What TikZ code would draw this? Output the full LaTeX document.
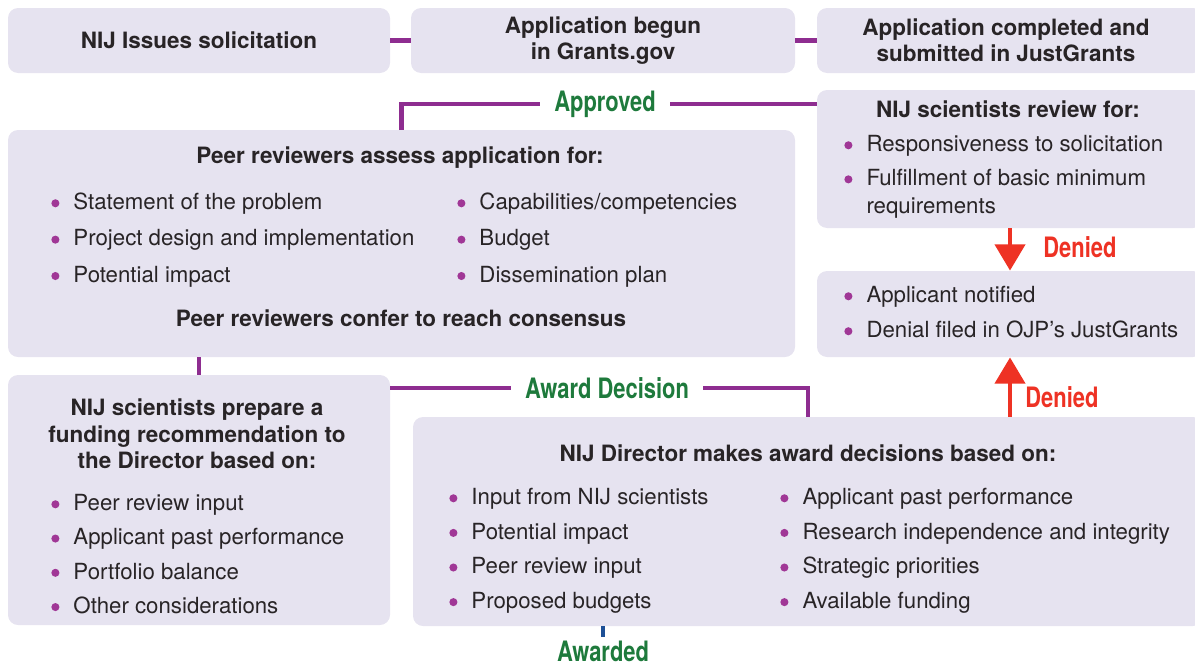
\documentclass[tikz,border=0pt]{standalone}
\usepackage{fontspec}
\setmainfont{TeX Gyre Heros}
\newfontfamily\condfont[FakeStretch=0.78]{TeX Gyre Heros}
\definecolor{boxfill}{RGB}{230, 227, 240}
\definecolor{flowpurple}{RGB}{142, 45, 144}
\definecolor{dotpurple}{RGB}{160, 55, 150}
\definecolor{okgreen}{RGB}{30, 122, 60}
\definecolor{denyred}{RGB}{238, 50, 36}
\definecolor{awardblue}{RGB}{30, 80, 150}
\definecolor{textgray}{RGB}{40, 36, 38}
\usetikzlibrary{arrows.meta, positioning, fit}
\newcommand{\bul}{\tikz[baseline=-3.6pt]\fill[dotpurple] (0,0) circle (2.3pt);}

\begin{document}
\begin{tikzpicture}[x=0.02cm, y=-0.02cm,
  box/.style={fill=boxfill, rounded corners=0.2cm, inner sep=0pt},
  title/.style={font=\fontsize{12.8}{15}\selectfont\bfseries, text=textgray, align=center, inner sep=0pt},
  items/.style={font=\fontsize{12.65}{14.5}\selectfont, text=textgray, anchor=mid west, inner sep=0pt},
  flow/.style={draw=flowpurple, line width=2.8pt},
  deny/.style={draw=denyred, line width=2.8pt, -{Triangle[length=15pt, width=17pt]}},
  outcome/.style={font=\condfont\fontsize{16}{18}\selectfont\bfseries, inner ysep=0pt, inner xsep=8pt}]
  \useasboundingbox (0,0) rectangle (1195,666);
  \clip (0,0) rectangle (1195,666);

  % Boxes
  \node[box, fit={(8,8) (390,73)}] (solicit) {};
  \node[box, fit={(411,8) (795,73)}] (begun) {};
  \node[box, fit={(817,8) (1203,73)}] (submitted) {};
  \node[box, fit={(817,90) (1203,228)}] (review) {};
  \node[box, fit={(8,130) (795,357)}] (peer) {};
  \node[box, fit={(817,271) (1203,357)}] (notified) {};
  \node[box, fit={(8,375) (390,625)}] (prep) {};
  \node[box, fit={(413,417) (1203,626)}] (director) {};

  % Top row
  \node[title] (solicitT) at (solicit) {NIJ Issues solicitation};
  \node[title] (begunT) at (begun) {Application begun\\in Grants.gov};
  \node[title] (submittedT) at (1006,40) {Application completed and\\submitted in JustGrants};

  % NIJ scientists review
  \node[title] (reviewT) at (1008,109) {NIJ scientists review for:};
  \node[items] (reviewL) at (844,147) {\begin{tabular}[t]{@{}l@{\hspace{8pt}}l@{}}
    \bul & Responsiveness to solicitation\\[4.9pt]
    \bul & Fulfillment of basic minimum\\[1.4pt]
         & requirements
  \end{tabular}};

  % Peer review
  \node[title] (peerT) at (400,158) {Peer reviewers assess application for:};
  \node[items] (peerL) at (51,205) {\begin{tabular}[t]{@{}l@{\hspace{8pt}}l@{}}
    \bul & Statement of the problem\\[6.2pt]
    \bul & Project design and implementation\\[6.2pt]
    \bul & Potential impact
  \end{tabular}};
  \node[items] (peerR) at (457,205) {\begin{tabular}[t]{@{}l@{\hspace{8pt}}l@{}}
    \bul & Capabilities/competencies\\[6.2pt]
    \bul & Budget\\[6.2pt]
    \bul & Dissemination plan
  \end{tabular}};
  \node[title] (consensus) at (401,318) {Peer reviewers confer to reach consensus};

  % Denial
  \node[items] (notifiedL) at (844,298) {\begin{tabular}[t]{@{}l@{\hspace{8pt}}l@{}}
    \bul & Applicant notified\\[5.4pt]
    \bul & Denial filed in OJP’s JustGrants
  \end{tabular}};

  % Funding recommendation
  \node[title] (prepT) at (197,434) {NIJ scientists prepare a\\funding recommendation to\\the Director based on:};
  \node[items] (prepL) at (51,506) {\begin{tabular}[t]{@{}l@{\hspace{8pt}}l@{}}
    \bul & Peer review input\\[5pt]
    \bul & Applicant past performance\\[5pt]
    \bul & Portfolio balance\\[5pt]
    \bul & Other considerations
  \end{tabular}};

  % Director
  \node[title] (directorT) at (808,453) {NIJ Director makes award decisions based on:};
  \node[items] (directorL) at (449,500) {\begin{tabular}[t]{@{}l@{\hspace{8pt}}l@{}}
    \bul & Input from NIJ scientists\\[5.2pt]
    \bul & Potential impact\\[5.2pt]
    \bul & Peer review input\\[5.2pt]
    \bul & Proposed budgets
  \end{tabular}};
  \node[items] (directorR) at (780,500) {\begin{tabular}[t]{@{}l@{\hspace{8pt}}l@{}}
    \bul & Applicant past performance\\[5.2pt]
    \bul & Research independence and integrity\\[5.2pt]
    \bul & Strategic priorities\\[5.2pt]
    \bul & Available funding
  \end{tabular}};

  % Outcome labels
  \node[outcome, text=okgreen] (approved) at (605,104) {Approved};
  \node[outcome, text=okgreen] (decision) at (607,388) {Award Decision};
  \node[outcome, text=okgreen, inner xsep=0pt, anchor=base] (awarded) at (603,661) {Awarded};
  \node[outcome, text=denyred, anchor=west, inner xsep=0pt] (denied1) at (1043,247) {Denied};
  \node[outcome, text=denyred, anchor=west, inner xsep=0pt] (denied2) at (1025,397) {Denied};

  % Connectors
  \draw[flow] (solicit) -- (begun);
  \draw[flow] (begun) -- (submitted);
  \draw[flow] (review.west |- approved) -- (approved.east);
  \draw[flow] (approved.west) -| (peer.north);
  \draw[flow] (peer.south -| prep.north) -- (prep.north);
  \draw[flow] (prep.east |- decision) -- (decision.west);
  \draw[flow] (decision.east) -| (director.north);
  \draw[deny] (review.south) -- (notified.north);
  \draw[deny] (director.north -| notified.south) -- (notified.south);
  \draw[draw=awardblue, line width=2.8pt] (director.south -| awarded) -- ([yshift=2pt]awarded.north);
\end{tikzpicture}
\end{document}
